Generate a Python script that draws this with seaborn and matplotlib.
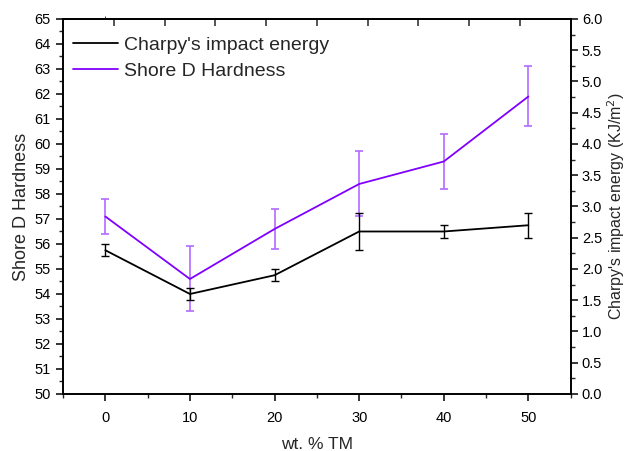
import matplotlib
matplotlib.use('Agg')
import matplotlib.pyplot as plt
from matplotlib.ticker import MultipleLocator, FormatStrFormatter
import seaborn as sns
import pandas as pd

# data
wt_tm = [0, 10, 20, 30, 40, 50]
shore_d = [57.1, 54.6, 56.6, 58.4, 59.3, 61.9]
shore_d_err = [0.7, 1.3, 0.8, 1.3, 1.1, 1.2]
charpy = [2.3, 1.6, 1.9, 2.6, 2.6, 2.7]
charpy_err = [0.1, 0.1, 0.1, 0.3, 0.1, 0.2]
top_ticks = [1, 7, 13, 19, 25, 31, 37, 43, 49]

df = pd.DataFrame({'wt': wt_tm, 'shore': shore_d, 'charpy': charpy})

sns.set_style('ticks')
plt.rcParams['font.family'] = ['Liberation Sans', 'DejaVu Sans']

PURPLE = '#8000ff'
PURPLE_ERR = '#b36bff'

fig = plt.figure(figsize=(6.29, 4.51), dpi=100)
ax1 = fig.add_axes([0.1002, 0.1264, 0.8071, 0.8315])
ax2 = ax1.twinx()

# shore D hardness on the left axis
ax1.errorbar(wt_tm, shore_d, yerr=shore_d_err, fmt='none', ecolor=PURPLE_ERR,
             elinewidth=1.2, capsize=2.8, capthick=1.2, zorder=2)
sns.lineplot(data=df, x='wt', y='shore', ax=ax1, color=PURPLE, linewidth=1.3,
             label='Shore D Hardness', legend=False, zorder=3)

# charpy impact energy on the right axis
ax2.errorbar(wt_tm, charpy, yerr=charpy_err, fmt='none', ecolor='black',
             elinewidth=1.0, capsize=2.8, capthick=1.0, zorder=2)
sns.lineplot(data=df, x='wt', y='charpy', ax=ax2, color='black', linewidth=1.3,
             label="Charpy's impact energy", legend=False, zorder=3)

ax1.set_xlim(-5, 55)
ax1.set_ylim(50, 65)
ax2.set_ylim(0, 6.0)

ax1.xaxis.set_major_locator(MultipleLocator(10))
ax1.xaxis.set_minor_locator(MultipleLocator(5))
ax1.yaxis.set_major_locator(MultipleLocator(1))
ax1.yaxis.set_minor_locator(MultipleLocator(0.5))
ax2.yaxis.set_major_locator(MultipleLocator(0.5))
ax2.yaxis.set_minor_locator(MultipleLocator(0.25))
ax2.yaxis.set_major_formatter(FormatStrFormatter('%.1f'))

for a in (ax1, ax2):
    for s in a.spines.values():
        s.set_linewidth(1.2)
        s.set_color('black')
    a.tick_params(which='major', direction='out', length=5, width=1.1,
                  labelsize=10.5, colors='black', pad=4)
    a.tick_params(which='minor', direction='out', length=3, width=1.0)
ax1.tick_params(axis='x', pad=7)
ax2.tick_params(axis='y', pad=3)

# top spine ticks pointing inward, no labels
top = ax1.secondary_xaxis('top')
top.set_xticks(top_ticks)
top.tick_params(direction='in', length=5, width=1.1, labeltop=False)
top.xaxis.set_minor_locator(MultipleLocator(100))
top.spines['top'].set_linewidth(1.2)

ax1.set_xlabel('wt. % TM', fontsize=12.5, labelpad=9)
ax1.set_ylabel('Shore D Hardness', fontsize=13, labelpad=3)
ax2.set_ylabel("Charpy's impact energy (KJ/m$^2$)", fontsize=11.5, labelpad=2)

h1, l1 = ax1.get_legend_handles_labels()
h2, l2 = ax2.get_legend_handles_labels()
ax1.legend(h2 + h1, l2 + l1, loc='upper left', frameon=False, fontsize=14,
           handlelength=2.3, handletextpad=0.3, labelspacing=0.45,
           borderaxespad=0.0, bbox_to_anchor=(0.005, 0.975))

plt.savefig('out.png', dpi=100)
